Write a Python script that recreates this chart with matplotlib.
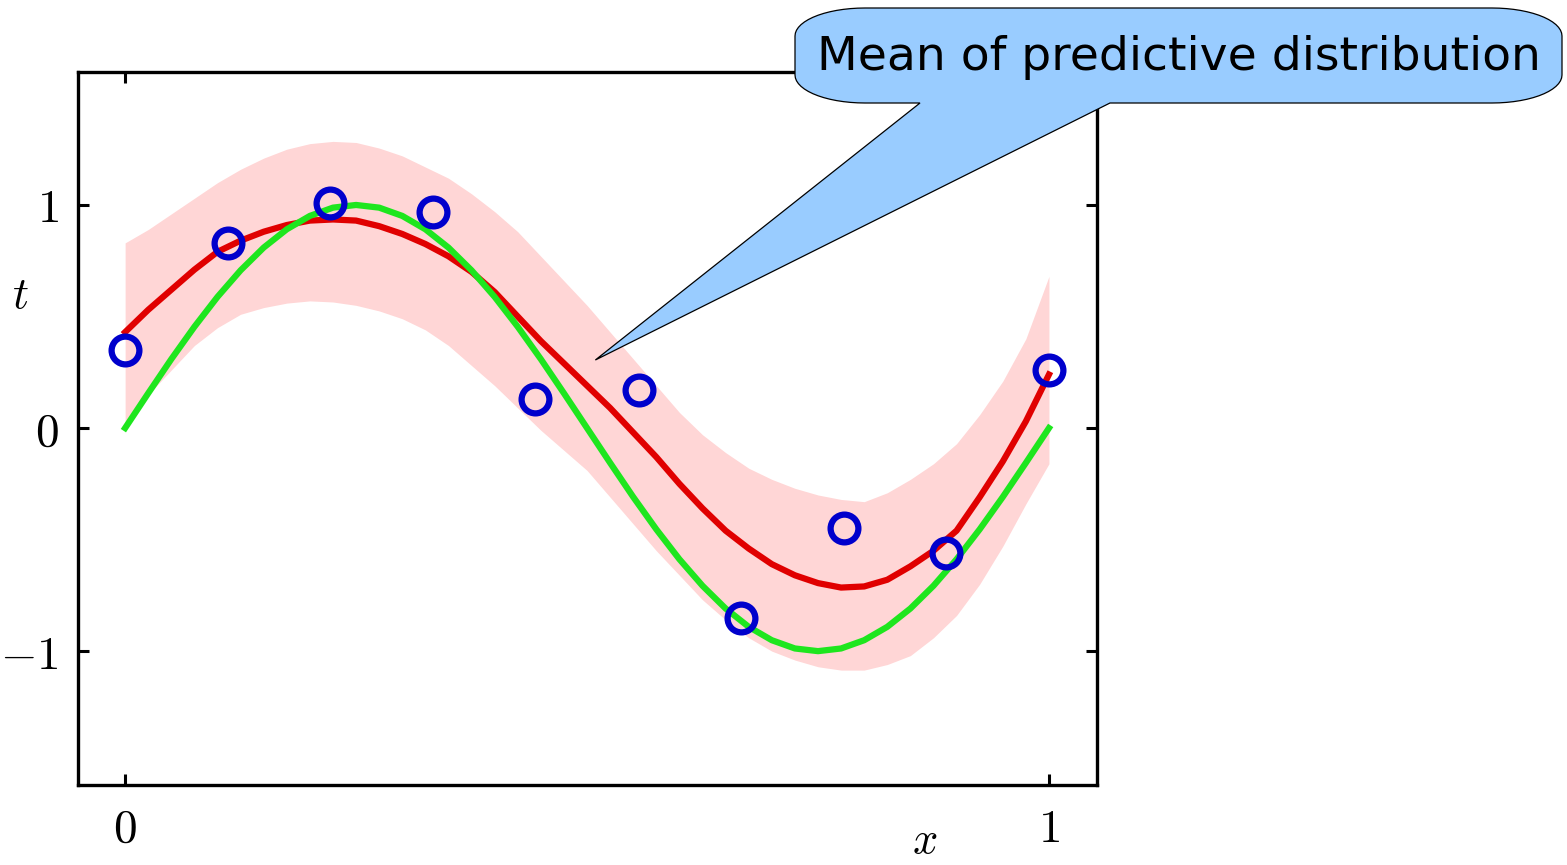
import numpy as np
import matplotlib

matplotlib.use("Agg")
import matplotlib.pyplot as plt  # noqa: E402
from matplotlib.patches import Polygon  # noqa: E402

plt.rcParams["mathtext.fontset"] = "cm"

# observed data points
x_obs = [0.0, 0.111, 0.222, 0.333, 0.444, 0.556, 0.667, 0.778, 0.889, 1.0]
t_obs = [0.35, 0.83, 1.01, 0.97, 0.13, 0.17, -0.85, -0.45, -0.56, 0.26]

# curves, every 0.025 in x
x_grid = np.linspace(0.0, 1.0, 41)
true_curve = [0.0, 0.156, 0.309, 0.454, 0.588, 0.707, 0.809, 0.891, 0.951, 0.988,
              1.0, 0.988, 0.951, 0.891, 0.809, 0.707, 0.588, 0.454, 0.309, 0.156,
              0.0, -0.156, -0.309, -0.454, -0.588, -0.707, -0.809, -0.891, -0.951,
              -0.988, -1.0, -0.988, -0.951, -0.891, -0.809, -0.707, -0.588, -0.454,
              -0.309, -0.156, 0.0]
pred_mean = [0.43, 0.53, 0.62, 0.71, 0.79, 0.84, 0.88, 0.91, 0.93, 0.935,
             0.93, 0.905, 0.87, 0.825, 0.77, 0.70, 0.61, 0.50, 0.39, 0.29,
             0.19, 0.09, -0.02, -0.13, -0.25, -0.36, -0.46, -0.54, -0.61, -0.66,
             -0.695, -0.715, -0.71, -0.68, -0.62, -0.55, -0.46, -0.31, -0.15, 0.03,
             0.24]
band_upper = [0.83, 0.89, 0.96, 1.03, 1.10, 1.16, 1.21, 1.25, 1.275, 1.285,
              1.28, 1.255, 1.22, 1.17, 1.12, 1.05, 0.97, 0.88, 0.77, 0.66,
              0.55, 0.43, 0.31, 0.19, 0.07, -0.03, -0.11, -0.18, -0.23, -0.27,
              -0.30, -0.32, -0.33, -0.29, -0.23, -0.16, -0.07, 0.06, 0.21, 0.40,
              0.68]
band_lower = [0.02, 0.15, 0.26, 0.37, 0.45, 0.51, 0.54, 0.56, 0.57, 0.565,
              0.55, 0.525, 0.49, 0.44, 0.37, 0.28, 0.19, 0.09, -0.01, -0.10,
              -0.19, -0.31, -0.43, -0.55, -0.66, -0.77, -0.86, -0.94, -1.00, -1.04,
              -1.07, -1.085, -1.085, -1.06, -1.02, -0.94, -0.84, -0.70, -0.53, -0.34,
              -0.16]

callout_text = "Mean of predictive distribution"
callout_target = (0.509, 0.305)

W, H = 1567, 865
fig = plt.figure(figsize=(W / 100, H / 100), dpi=100)
ax = fig.add_axes([78 / W, 1 - 785 / H, (1097 - 78) / W, (785 - 72) / H])

ax.fill_between(x_grid, band_lower, band_upper, color="#ffd6d6", lw=0, zorder=1)
ax.plot(x_grid, pred_mean, color="#e00000", lw=4.5, zorder=3,
        solid_joinstyle="round")
ax.plot(x_grid, true_curve, color="#1ee61e", lw=4.5, zorder=4,
        solid_joinstyle="round")
ax.plot(x_obs, t_obs, "o", ms=20, mfc="none", mec="#0000cc", mew=4.5, zorder=5)

ax.set_xlim(-0.051, 1.052)
ax.set_ylim(-1.6, 1.596)
ax.set_xticks([0, 1], labels=["$0$", "$1$"])
ax.set_yticks([-1, 0, 1], labels=["$-1$", "$0$", "$1$"])
ax.tick_params(direction="in", length=8, width=2.2, labelsize=34,
               top=True, right=True, pad=14)
ax.tick_params(axis="x", pad=16)
for sp in ax.spines.values():
    sp.set_linewidth(2.4)

ax.set_xlabel("$x$", fontsize=32, va="center")
ax.xaxis.set_label_coords(0.831, -0.078)
ax.set_ylabel("$t$", fontsize=32, rotation=0, va="center")
ax.yaxis.set_label_coords(-0.057, 0.687)

# speech bubble callout, built in figure pixels
left, right, top, bottom = 795, 1562, 8, 103
rx, ry = 70, 28
tail_l, tail_r = 920, 1110
tip = ax.transData.transform(callout_target)
tip_px = (tip[0], H - tip[1])


def corner(cx, cy, a0, a1):
    ang = np.linspace(np.radians(a0), np.radians(a1), 16)
    return [(cx + rx * np.cos(a), cy - ry * np.sin(a)) for a in ang]


pts = []
pts += [(left + rx, bottom)]
pts += [(tail_l, bottom), tip_px, (tail_r, bottom)]
pts += corner(right - rx, bottom - ry, 270, 360)
pts += corner(right - rx, top + ry, 0, 90)
pts += corner(left + rx, top + ry, 90, 180)
pts += corner(left + rx, bottom - ry, 180, 270)
pts_fig = [(px / W, 1 - py / H) for px, py in pts]
bubble = Polygon(pts_fig, closed=True, transform=fig.transFigure,
                 facecolor="#99ccff", edgecolor="black", lw=0.9, zorder=10)
fig.add_artist(bubble)
fig.text((812 + 1545) / 2 / W, 1 - 57 / H, callout_text, fontsize=34,
         family="DejaVu Sans", ha="center", va="center", zorder=11)

fig.savefig("out.png", dpi=100)
